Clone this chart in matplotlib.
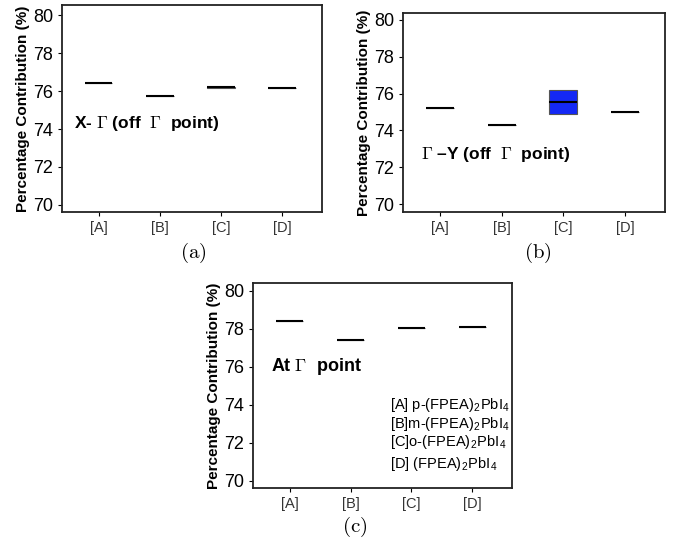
import matplotlib.pyplot as plt

plt.rcParams['font.family'] = ['Liberation Sans', 'DejaVu Sans']
plt.rcParams['mathtext.fontset'] = 'cm'

categories = ['[A]', '[B]', '[C]', '[D]']

# median / lower quartile / upper quartile per panel
xg_med = [76.4, 75.75, 76.2, 76.18]
xg_lo = [76.4, 75.75, 76.18, 76.18]
xg_hi = [76.4, 75.75, 76.22, 76.18]

gy_med = [75.2, 74.3, 75.55, 75.0]
gy_lo = [75.2, 74.3, 74.9, 75.0]
gy_hi = [75.2, 74.3, 76.2, 75.0]

g_med = [78.4, 77.4, 78.05, 78.1]
g_lo = [78.4, 77.4, 78.05, 78.1]
g_hi = [78.4, 77.4, 78.05, 78.1]

sub2 = r'$_\mathregular{2}$'
sub4 = r'$_\mathregular{4}$'
legend_lines = ['[A] p-(FPEA)' + sub2 + 'PbI' + sub4,
                '[B]m-(FPEA)' + sub2 + 'PbI' + sub4,
                '[C]o-(FPEA)' + sub2 + 'PbI' + sub4,
                '[D] (FPEA)' + sub2 + 'PbI' + sub4]
legend_y = [74.0, 73.0, 72.05, 70.9]

fig = plt.figure(figsize=(6.8, 5.45), dpi=100)


def panel(rect, med, lo, hi, ylim):
    ax = fig.add_axes(rect)
    stats = []
    for m, l, h in zip(med, lo, hi):
        stats.append({'med': m, 'q1': l, 'q3': h, 'whislo': l, 'whishi': h})
    ax.bxp(stats, positions=[1, 2, 3, 4], widths=0.45, showfliers=False,
           showcaps=False, patch_artist=True,
           boxprops=dict(facecolor='#1428f5', edgecolor='#555555', linewidth=0.8),
           medianprops=dict(color='black', linewidth=1.5),
           whiskerprops=dict(linewidth=0))
    ax.set_xlim(0.4, 4.65)
    ax.set_ylim(*ylim)
    ax.set_yticks([70, 72, 74, 76, 78, 80])
    ax.set_xticks([1, 2, 3, 4])
    ax.set_xticklabels(categories, fontsize=10.5, color='#333333')
    ax.tick_params(axis='y', labelsize=13, length=3, width=0.8)
    ax.tick_params(axis='x', length=3, width=0.8)
    for s in ax.spines.values():
        s.set_linewidth(1.3)
        s.set_color('#222222')
    ax.set_ylabel('Percentage Contribution (%)', fontsize=11, fontweight='bold',
                  labelpad=2)
    return ax


# (a)
ax1 = panel([62 / 680, 1 - 212 / 545, 260 / 680, 207 / 545], xg_med, xg_lo, xg_hi,
            (69.63, 80.53))
ax1.text(0.6, 74.3, r'X- $\mathbf{\Gamma}$ (off  $\mathbf{\Gamma}$  point)', fontsize=12.5,
         fontweight='bold', va='center')
fig.text(193 / 680, 1 - 253 / 545, r'$\mathrm{(a)}$', fontsize=15, ha='center', va='center')

# (b)
ax2 = panel([403 / 680, 1 - 212 / 545, 262 / 680, 199 / 545], gy_med, gy_lo, gy_hi,
            (69.57, 80.38))
ax2.text(0.7, 72.7, r'$\mathbf{\Gamma}$ –Y (off  $\mathbf{\Gamma}$  point)', fontsize=12.5,
         fontweight='bold', va='center')
fig.text(538 / 680, 1 - 253 / 545, r'$\mathrm{(b)}$', fontsize=15, ha='center', va='center')

# (c)
ax3 = panel([253 / 680, 1 - 488 / 545, 259 / 680, 205 / 545], g_med, g_lo, g_hi,
            (69.63, 80.42))
ax3.text(0.7, 76.0, r'At $\mathbf{\Gamma}$  point', fontsize=13, fontweight='bold', va='center')
for t, y in zip(legend_lines, legend_y):
    ax3.text(2.65, y, t, fontsize=10.5, va='center')
fig.text(355 / 680, 1 - 527 / 545, r'$\mathrm{(c)}$', fontsize=15, ha='center', va='center')

fig.savefig('out.png', dpi=100)
